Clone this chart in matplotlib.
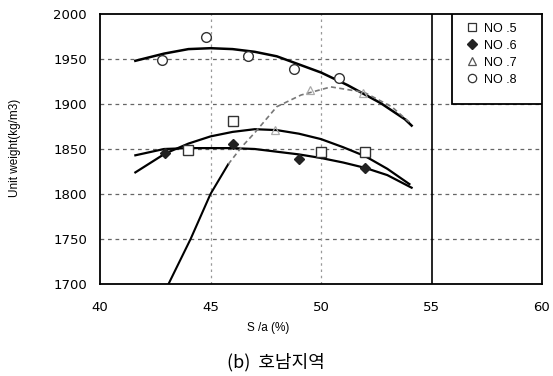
import matplotlib
matplotlib.use("Agg")
import matplotlib.pyplot as plt
from matplotlib.patches import Rectangle
from matplotlib.lines import Line2D

# Measured points
no5_x = [44.0, 46.0, 50.0, 52.0]
no5_y = [1849, 1881, 1847, 1847]
no6_x = [42.95, 46.0, 49.0, 52.0]
no6_y = [1846, 1856, 1839, 1829]
no7_x = [47.9, 49.5, 51.9]
no7_y = [1871, 1916, 1912]
no8_x = [42.8, 44.8, 46.7, 48.8, 50.8]
no8_y = [1949, 1974, 1953, 1939, 1929]

# Trend curves
fit5_x = [41.6, 42.95, 44.0, 45.0, 46.0, 47.0, 48.0, 49.0, 50.0, 51.0, 52.0, 53.0, 54.0]
fit5_y = [1824, 1845, 1856, 1864, 1869, 1872, 1871, 1867, 1861, 1852, 1842, 1828, 1811]
fit6_x = [41.6, 42.9, 44.0, 46.0, 47.0, 48.0, 49.0, 50.0, 51.0, 52.0, 53.0, 54.1]
fit6_y = [1843, 1850, 1851, 1851, 1850, 1847, 1844, 1840, 1835, 1829, 1821, 1807]
fit7a_x = [43.1, 44.1, 45.0, 45.8]
fit7a_y = [1700, 1750, 1800, 1833]
fit7b_x = [45.8, 46.4, 47.0, 48.0, 49.1, 50.45, 51.95, 53.2, 53.8, 54.0]
fit7b_y = [1833, 1852, 1868, 1897, 1910, 1919, 1913, 1897, 1884, 1880]
fit8_x = [41.6, 42.9, 44.0, 45.0, 46.0, 47.0, 48.0, 49.0, 50.0, 51.2, 52.7, 53.8, 54.1]
fit8_y = [1948, 1956, 1961, 1962, 1961, 1958, 1953, 1944, 1935, 1921, 1901, 1883, 1876]

x_ticks = [40, 45, 50, 55, 60]
y_ticks = [1700, 1750, 1800, 1850, 1900, 1950, 2000]
legend_labels = ["NO .5", "NO .6", "NO .7", "NO .8"]

W, H = 553, 376
fig = plt.figure(figsize=(W / 100, H / 100), dpi=100)
ax = fig.add_axes([100 / W, 1 - 284 / H, 442 / W, 270 / H])
ax.set_xlim(40, 60)
ax.set_ylim(1700, 2000)

tick_font = dict(family=["DejaVu Sans"], size=9.5)
ax.set_xticks(x_ticks)
ax.set_yticks(y_ticks)
ax.set_xticklabels([str(v) for v in x_ticks], **tick_font)
ax.set_yticklabels([str(v) for v in y_ticks], **tick_font)
ax.tick_params(axis="x", length=0, pad=12)
ax.tick_params(axis="y", length=0, pad=9.4)

for s in ax.spines.values():
    s.set_linewidth(1.3)
    s.set_color("black")

# grid
for yv in y_ticks[1:-1]:
    ax.axhline(yv, color="#666666", lw=0.9, ls=(0, (3, 3)), zorder=1)
for xv in [45, 50]:
    ax.axvline(xv, color="#999999", lw=0.9, ls=(0, (2, 3)), zorder=1)
ax.axvline(55, color="black", lw=1.2, zorder=2)

# trend curves
ax.plot(fit8_x, fit8_y, color="black", lw=1.8, zorder=3)
ax.plot(fit5_x, fit5_y, color="black", lw=1.6, zorder=3)
ax.plot(fit6_x, fit6_y, color="black", lw=1.6, zorder=3)
ax.plot(fit7a_x, fit7a_y, color="black", lw=1.5, zorder=3)
ax.plot(fit7b_x, fit7b_y, color="#777777", lw=1.2, ls=(0, (3, 2)), zorder=3)

# markers
ax.plot(no5_x, no5_y, ls="none", marker="s", ms=7, mfc="white", mec="#333333", mew=1.0, zorder=4)
ax.plot(no6_x, no6_y, ls="none", marker="D", ms=5.5, mfc="#222222", mec="#222222", zorder=4)
ax.plot(no7_x, no7_y, ls="none", marker="^", ms=6, mfc="none", mec="#aaaaaa", mew=0.9, zorder=4)
ax.plot(no8_x, no8_y, ls="none", marker="o", ms=7, mfc="white", mec="#333333", mew=1.0, zorder=4)

# legend box
x0 = (452 - 100) / 442
y0 = (284 - 104) / 270
ax.add_patch(Rectangle((x0, y0), 1 - x0, 1 - y0, transform=ax.transAxes,
                       facecolor="white", edgecolor="black", lw=1.3, zorder=5))
handles = [
    Line2D([], [], ls="none", marker="s", ms=6, mfc="white", mec="#333333", mew=0.9),
    Line2D([], [], ls="none", marker="D", ms=5.5, mfc="#222222", mec="#222222"),
    Line2D([], [], ls="none", marker="^", ms=6, mfc="white", mec="#555555", mew=0.9),
    Line2D([], [], ls="none", marker="o", ms=6, mfc="white", mec="#333333", mew=0.9),
]
leg = ax.legend(handles, legend_labels, loc="upper left", bbox_to_anchor=(x0 + 0.015, 1.0),
                frameon=False, handlelength=0.8, handletextpad=0.5, labelspacing=0.4,
                borderaxespad=0.3, prop=dict(family=["Liberation Sans", "DejaVu Sans"], size=9))
leg.set_zorder(6)

fig.text(15 / W, 1 - 148 / H, "Unit weight(kg/m3)", rotation=90, ha="center", va="center",
         family=["Liberation Sans", "DejaVu Sans"], size=8.5)
fig.text(268 / W, 1 - 328 / H, "S /a (%)", ha="center", va="center",
         family=["Liberation Sans", "DejaVu Sans"], size=8.5)
fig.text(276 / W, 1 - 362 / H, "(b)  호남지역", ha="center", va="center",
         family=["Noto Sans CJK KR", "DejaVu Sans"], size=13)

fig.savefig("out.png", dpi=100)
